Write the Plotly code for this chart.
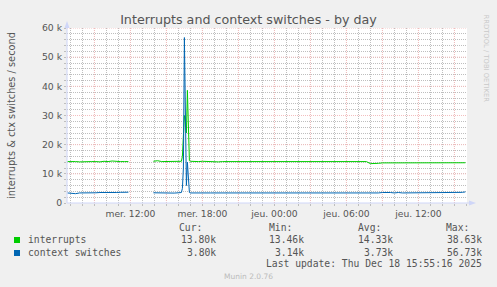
import plotly.graph_objects as go
import pandas as pd

# ---------------- data (values in thousands per second) ----------------
# segment A: Wed 06:45 -> 11:50
int_a = [14.2, 14.3, 14.2, 14.1, 14.2, 14.3, 14.2, 14.2, 14.1, 14.3, 14.2, 14.4, 14.2, 14.2, 14.2, 14.2]
ctx_a = [3.45, 3.4, 3.2, 3.45, 3.45, 3.4, 3.3, 3.5, 3.6, 3.55, 3.6, 3.5, 3.6, 3.65, 3.7, 3.7]
# segment B: Wed 13:55 -> 16:00
int_b = [14.3, 14.5, 14.2, 14.2, 14.2, 14.2, 14.2]
ctx_b = [3.5, 3.45, 3.4, 3.45, 3.5, 3.4, 3.5]
# segment C: Wed 16:05 -> 16:55 (5 min steps, the spike)
int_c = [14.2, 14.2, 14.3, 16.0, 26.0, 30.0, 28.0, 24.0, 38.63, 22.0, 14.5]
ctx_c = [3.5, 3.5, 3.6, 5.0, 12.0, 56.73, 17.0, 6.0, 14.0, 9.0, 3.6]
# segment D: Wed 17:00 -> Thu 15:40 (20 min steps)
int_d = [14.3, 14.2, 14.2, 14.3, 14.2, 14.2, 14.2, 14.1, 14.2, 14.2, 14.3, 14.2, 14.2, 14.2, 14.3, 14.2, 14.2, 14.2, 14.1, 14.2, 14.2,
         14.2, 14.3, 14.3, 14.2, 14.2, 14.3, 14.2, 14.2, 14.2, 14.3, 14.2, 14.2, 14.3, 14.2, 14.2, 14.2, 14.2, 14.3, 14.2, 14.2, 14.3, 14.2, 14.2, 14.2,
         13.5, 13.46, 13.6, 13.75,
         13.75, 13.75, 13.8, 13.75, 13.75, 13.75, 13.7, 13.75, 13.75, 13.8, 13.75, 13.75, 13.75, 13.75, 13.8, 13.75, 13.8, 13.75, 13.75, 13.75]
ctx_d = [3.45, 3.5, 3.45, 3.45, 3.5, 3.45, 3.45, 3.45, 3.45, 3.45, 3.45, 3.45, 3.45, 3.45, 3.45, 3.45, 3.45, 3.45, 3.45, 3.45, 3.45,
         3.45, 3.2, 3.45, 3.45, 3.45, 3.45, 3.45, 3.2, 3.45, 3.2, 3.45, 3.45, 3.45, 3.45, 3.45, 3.45, 3.45, 3.45, 3.2, 3.45, 3.2, 3.45, 3.2, 3.45,
         3.45, 3.45, 3.45, 3.6,
         3.65, 3.6, 3.45, 3.6, 3.45, 3.45, 3.6, 3.6, 3.45, 3.45, 3.45, 3.6, 3.6, 3.5, 3.45, 3.6, 3.6, 3.45, 3.6, 3.65]
# segment E: last sample
int_e = [13.80]
ctx_e = [3.80]

# axis ticks / grid
x_major = ["2025-12-17 09:00", "2025-12-17 12:00", "2025-12-17 15:00", "2025-12-17 18:00", "2025-12-17 21:00",
           "2025-12-18 00:00", "2025-12-18 03:00", "2025-12-18 06:00", "2025-12-18 09:00", "2025-12-18 12:00",
           "2025-12-18 15:00"]
x_label_at = {"2025-12-17 12:00": "mer. 12:00", "2025-12-17 18:00": "mer. 18:00",
              "2025-12-18 00:00": "jeu. 00:00", "2025-12-18 06:00": "jeu. 06:00",
              "2025-12-18 12:00": "jeu. 12:00"}
y_major = [0, 10000, 20000, 30000, 40000, 50000, 60000]
y_label_at = {0: "0", 10000: "10 k", 20000: "20 k", 30000: "30 k", 40000: "40 k", 50000: "50 k", 60000: "60 k"}
x_minor = [t.strftime("%Y-%m-%d %H:%M") for t in pd.date_range("2025-12-17 07:00", "2025-12-18 16:00", freq="1h")]
y_minor = list(range(0, 60001, 2000))

legend_names = ["interrupts", "context switches"]
stats_cur = ["13.80k", "3.80k"]
stats_min = ["13.46k", "3.14k"]
stats_avg = ["14.33k", "3.73k"]
stats_max = ["38.63k", "56.73k"]

XRANGE = ["2025-12-17 06:43", "2025-12-18 16:03"]
YRANGE = [0, 60000]


def seg_times(start, end, n):
    if n == 1:
        return [pd.Timestamp(start)]
    return list(pd.date_range(start, end, periods=n))


def build(a, b, c, d, e):
    t = (seg_times("2025-12-17 06:45", "2025-12-17 11:50", len(a))
         + [pd.Timestamp("2025-12-17 12:30")]
         + seg_times("2025-12-17 13:55", "2025-12-17 16:00", len(b))
         + list(pd.date_range("2025-12-17 16:05", periods=len(c), freq="5min"))
         + list(pd.date_range("2025-12-17 17:00", periods=len(d), freq="20min"))
         + seg_times("2025-12-18 15:55", None, len(e)))
    v = [x * 1000 for x in a] + [None] + [x * 1000 for x in b + c + d + e]
    return t, v


t_int, v_int = build(int_a, int_b, int_c, int_d, int_e)
t_ctx, v_ctx = build(ctx_a, ctx_b, ctx_c, ctx_d, ctx_e)

GREEN = "#00CC00"
BLUE = "#0066B3"
MGRID = "#F3BEBE"
GRID = "#BEBEBE"
AXIS = "#CFD6F8"
FONT = "#555555"

fig = go.Figure()

# major (red) grid lines as background line traces built from the tick arrays
gx, gy = [], []
for t in x_major:
    gx += [t, t, None]
    gy += [YRANGE[0], YRANGE[1], None]
for v in y_major[1:]:
    gx += [XRANGE[0], XRANGE[1], None]
    gy += [v, v, None]
fig.add_trace(go.Scatter(x=gx, y=gy, mode="lines", line=dict(color=MGRID, width=1, dash="1px,1px"),
                         hoverinfo="skip", showlegend=False))

fig.add_trace(go.Scatter(x=t_int, y=v_int, mode="lines", line=dict(color=GREEN, width=1),
                         connectgaps=False, name=legend_names[0]))
fig.add_trace(go.Scatter(x=t_ctx, y=v_ctx, mode="lines", line=dict(color=BLUE, width=1),
                         connectgaps=False, name=legend_names[1]))

L, T, W, H = 67, 28, 400, 175


def PX(x):
    return (x - L) / W


def PY(y):
    return (T + H - y) / H


fig.update_layout(
    width=497, height=287,
    margin=dict(l=L, r=497 - L - W, t=T, b=287 - T - H, pad=0),
    paper_bgcolor="#F0F0F0", plot_bgcolor="#FFFFFF",
    showlegend=False,
    title=dict(text="Interrupts and context switches - by day", x=0.5, xanchor="center",
               y=1 - 19.5 / 287, yanchor="middle", yref="container",
               font=dict(family="DejaVu Sans", size=12.7, color=FONT)),
    xaxis=dict(type="date", range=XRANGE,
               tickmode="array", tickvals=x_minor, ticktext=[x_label_at.get(t, "") for t in x_minor],
               showgrid=True, gridcolor=GRID, griddash="1px,1px", gridwidth=1,
               ticks="outside", ticklen=2, tickcolor=GRID,
               tickfont=dict(family="DejaVu Sans", size=9.2, color=FONT),
               zeroline=False, showline=False, fixedrange=True),
    yaxis=dict(range=YRANGE, tickmode="array", tickvals=y_minor,
               ticktext=[y_label_at.get(v, "") for v in y_minor],
               showgrid=True, gridcolor=GRID, griddash="1px,1px", gridwidth=1,
               ticks="outside", ticklen=2, tickcolor=GRID,
               tickfont=dict(family="DejaVu Sans", size=9.3, color=FONT),
               zeroline=False, showline=False, fixedrange=True),
)

shapes = [
    dict(type="line", xref="paper", yref="paper", x0=PX(67), x1=PX(67), y0=PY(203), y1=PY(24),
         line=dict(color=AXIS, width=1)),
    dict(type="path", xref="paper", yref="paper",
         path=f"M {PX(64.5)} {PY(28)} L {PX(69.5)} {PY(28)} L {PX(67)} {PY(21)} Z",
         fillcolor=AXIS, line=dict(color=AXIS, width=0)),
    dict(type="line", xref="paper", yref="paper", x0=PX(67), x1=PX(472), y0=PY(203), y1=PY(203),
         line=dict(color=AXIS, width=1)),
    dict(type="path", xref="paper", yref="paper",
         path=f"M {PX(469)} {PY(200.5)} L {PX(469)} {PY(205.5)} L {PX(476)} {PY(203)} Z",
         fillcolor=AXIS, line=dict(color=AXIS, width=0)),
    dict(type="rect", xref="paper", yref="paper", x0=PX(14), x1=PX(20), y0=PY(243), y1=PY(237),
         fillcolor=GREEN, line=dict(width=0)),
    dict(type="rect", xref="paper", yref="paper", x0=PX(14), x1=PX(20), y0=PY(256), y1=PY(250),
         fillcolor=BLUE, line=dict(width=0)),
]
fig.update_layout(shapes=shapes)

MONO = dict(family="DejaVu Sans Mono", size=9.7, color=FONT)
ann = []


def add(text, x, y, xanchor="left", font=MONO, **kw):
    ann.append(dict(text=text, x=PX(x), y=PY(y), xref="paper", yref="paper", showarrow=False,
                    xanchor=xanchor, yanchor="middle", font=font, borderpad=0, **kw))


add("interrupts &amp; ctx switches / second", 11, 116, xanchor="center",
    font=dict(family="DejaVu Sans", size=9.8, color=FONT), textangle=-90)
add("RRDTOOL / TOBI OETIKER", 486, 58.5, xanchor="center",
    font=dict(family="DejaVu Sans", size=6.8, color="#C8C8C8"), textangle=90)

for h, xr in zip(["Cur:", "Min:", "Avg:", "Max:"], [203.3, 293.3, 381.7, 470.0]):
    add(h, xr, 227.3, xanchor="right")
rows_y = [239.3, 252.0]
for i, name in enumerate(legend_names):
    add(name, 26.7, rows_y[i])
    for col, xr in zip([stats_cur, stats_min, stats_avg, stats_max], [216.7, 305.0, 394.3, 482.7]):
        add(col[i], xr, rows_y[i], xanchor="right")
add("Last update: Thu Dec 18 15:55:16 2025", 482.7, 263.3, xanchor="right")
add("Munin 2.0.76", 248, 276, xanchor="center", font=dict(family="DejaVu Sans", size=7.5, color="#BBBBBB"))

fig.update_layout(annotations=ann)
fig.write_html("out.html")
